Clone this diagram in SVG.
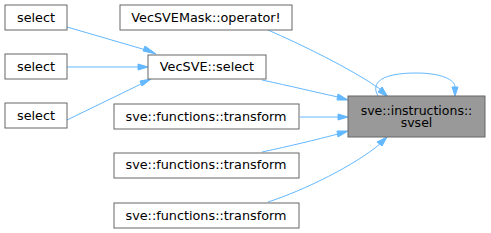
<svg xmlns="http://www.w3.org/2000/svg" width="491" height="233" viewBox="0 0 491 233">
<defs>
<style>
.n rect{fill:#ffffff;stroke:#666666;stroke-width:1}
.n text{font-family:"DejaVu Sans",sans-serif;font-size:12.8px;fill:#000000;text-anchor:middle}
.hl rect{fill:#999999}
.hl text{font-size:12.5px}
.e path{fill:none;stroke:#63b8ff;stroke-width:1}
.e polygon{fill:#63b8ff;stroke:#63b8ff;stroke-width:1}
</style>
</defs>
<rect width="491" height="233" fill="#ffffff"/>
<g class="e" id="edges">
<path d="M67,27 L146,50"/><polygon points="145,46 156,54 143,51"/>
<path d="M67,67 L138,67"/><polygon points="138,64 148,67 138,70"/>
<path d="M67,120 L141,84"/><polygon points="140,81 151,79 142,86"/>
<path d="M268,30 C300,44 350,68 380,89"/><polygon points="378,92 388,97 382,87"/>
<path d="M262,80 C290,86 315,92 338,97"/><polygon points="337,100 348,100 338,94"/>
<path d="M300,117 L338,117"/><polygon points="338,114 348,117 338,120"/>
<path d="M262,152 C290,146 315,140 338,134"/><polygon points="337,131 348,131 338,137"/>
<path d="M268,202 C305,190 355,165 380,144"/><polygon points="377,142 387,137 382,146"/>
<path d="M378,96 C370,82 383,73 416,73 C442,73 455,80 455,87"/><polygon points="452,87 455,96 458,87"/>
</g>
<g class="n" id="node_select1"><rect x="5" y="5" width="62" height="25"/><text x="36" y="21.5">select</text></g>
<g class="n" id="node_select2"><rect x="5" y="54" width="62" height="25"/><text x="36" y="71">select</text></g>
<g class="n" id="node_select3"><rect x="5" y="103" width="62" height="25"/><text x="36" y="120">select</text></g>
<g class="n" id="node_vecsvemask"><rect x="120" y="5" width="172" height="25"/><text x="206" y="21.5">VecSVEMask::operator!</text></g>
<g class="n" id="node_vecsve_select"><rect x="148" y="55" width="118" height="24"/><text x="207" y="71">VecSVE::select</text></g>
<g class="n" id="node_transform1"><rect x="114" y="104" width="185" height="25"/><text x="206" y="120.5">sve::functions::transform</text></g>
<g class="n" id="node_transform2"><rect x="114" y="153" width="185" height="25"/><text x="206" y="169">sve::functions::transform</text></g>
<g class="n" id="node_transform3"><rect x="114" y="203" width="185" height="25"/><text x="206" y="219.5">sve::functions::transform</text></g>
<g class="n hl" id="node_svsel"><rect x="348" y="96" width="137" height="41"/><text x="416.5" y="114.5">sve::instructions::<tspan x="416.5" y="127">svsel</tspan></text></g>
</svg>
